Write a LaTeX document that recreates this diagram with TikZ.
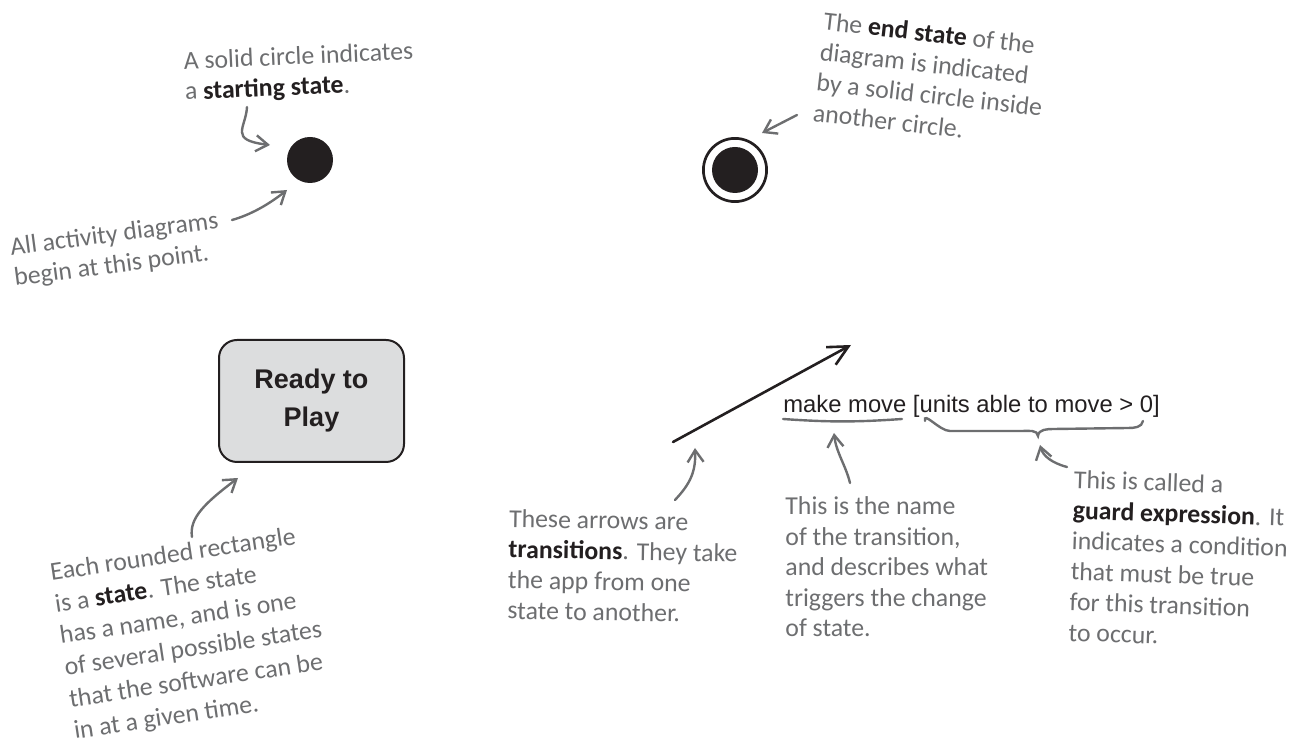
\documentclass[tikz,border=0pt]{standalone}
\usepackage{fontspec}
\setmainfont{Carlito}
\newfontfamily\uifont{Liberation Sans}
\usepackage{xcolor}
\usepackage{tikz}
\usetikzlibrary{arrows.meta}
\definecolor{ink}{HTML}{231F20}
\definecolor{pen}{HTML}{6D6E70}
\definecolor{statefill}{HTML}{DCDDDE}
\newcommand{\ink}[1]{{\bfseries\color{ink}#1}}

\begin{document}
\begin{tikzpicture}[x=0.5pt, y=-0.5pt,
  note/.style={anchor=base west, align=left, inner sep=0pt, text=pen, font=\fontsize{12.9}{15.3}\selectfont},
  pointer/.style={draw=pen, line width=1.2pt, line cap=round, -{Straight Barb[length=6pt, width=8pt]}},
  state/.style={draw=ink, line width=1pt, fill=statefill, rounded corners=9pt, minimum width=92.5pt, minimum height=61pt, align=center, text=ink, font=\uifont\bfseries\fontsize{13.5}{19}\selectfont},
  startdot/.style={circle, fill=ink, inner sep=0pt, minimum size=23pt},
  ring/.style={circle, draw=ink, line width=1.35pt, inner sep=0pt, minimum size=31.6pt},
  trans/.style={draw=ink, line width=1.3pt, line cap=round, -{Straight Barb[length=10pt, width=10pt]}},
  trlabel/.style={anchor=base west, inner sep=0pt, text=ink, font=\uifont\fontsize{11.9}{14}\selectfont}]
  \useasboundingbox (0,0) rectangle (1298,747);
  \node[startdot] (start) at (310,160) {};
  \node[startdot] (end) at (735,170) {};
  \node[ring] (endring) at (end) {};
  \node[state] (ready) at (311.5,401) {Ready to\\Play};
  \node[trlabel] (mm) at (783,413) {make move [units able to move > 0]};
  \node[note, rotate=2.5] (startnote) at (185,100) {A solid circle indicates\\a \ink{starting state}.};
  \node[note, rotate=7.5] (beginnote) at (15,286) {All activity diagrams\\begin at this point.};
  \node[note, rotate=-6.5] (endnote) at (812,121) {The \ink{end state} of the\\diagram is indicated\\by a solid circle inside\\another circle.};
  \node[note, rotate=8.5, font=\fontsize{12.9}{16}\selectfont] (statenote) at (75,739) {Each rounded rectangle\\is a \ink{state}. The state\\has a name, and is one\\of several possible states\\that the software can be\\in at a given time.};
  \node[note, rotate=-1] (transnote) at (507,619) {These arrows are\\\ink{transitions}. They take\\the app from one\\state to another.};
  \node[note] (namenote) at (785,637) {This is the name\\of the transition,\\and describes what\\triggers the change\\of state.};
  \node[note, rotate=-2] (guardnote) at (1068,641) {This is called a\\\ink{guard expression}. It\\indicates a condition\\that must be true\\for this transition\\to occur.};
  \coordinate (trfrom) at (673,442); \coordinate (trto) at (851,345);
  \coordinate (ulA) at (783,419); \coordinate (ulB) at (902,419);
  \coordinate (brL) at (925,421); \coordinate (brM) at (1038,436); \coordinate (brR) at (1143,421);
  \coordinate (p1) at (247,107); \coordinate (p1t) at (270,145);
  \coordinate (p2) at (232,220); \coordinate (p2t) at (287,190);
  \coordinate (p3) at (797,115); \coordinate (p3t) at (762,133);
  \coordinate (p4) at (192,537); \coordinate (p4t) at (238,478);
  \coordinate (p5) at (675,500); \coordinate (p5t) at (695,448);
  \coordinate (p6) at (850,483); \coordinate (p6t) at (834,433);
  \coordinate (p7) at (1067,467); \coordinate (p7t) at (1040,445);
  \draw[trans] (trfrom) -- (trto);
  \draw[pointer, -] (ulA) to[bend right=4] (ulB);
  \draw[pointer, -] (brL) to[out=100, in=180] (950,431) -- (1022,431) to[out=0, in=95] (brM) to[out=85, in=180] (1054,429) -- (1128,428) to[out=0, in=-100] (brR);
  \draw[pointer] (p1) .. controls (246,128) and (228,140) .. (p1t);
  \draw[pointer] (p2) .. controls (250,215) and (268,205) .. (p2t);
  \draw[pointer] (p3) -- (p3t);
  \draw[pointer] (p4) .. controls (189,518) and (205,503) .. (p4t);
  \draw[pointer] (p5) .. controls (690,484) and (696,472) .. (p5t);
  \draw[pointer] (p6) .. controls (846,466) and (836,452) .. (p6t);
  \draw[pointer] (p7) .. controls (1052,463) and (1043,456) .. (p7t);
\end{tikzpicture}
\end{document}
